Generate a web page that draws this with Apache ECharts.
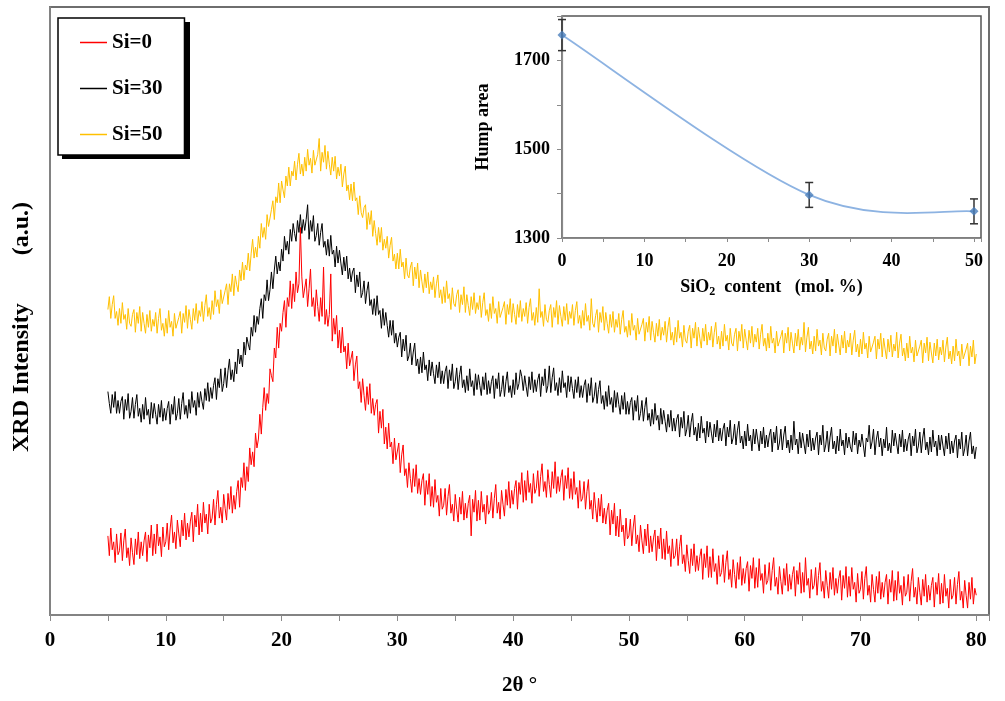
<!DOCTYPE html>
<html>
<head>
<meta charset="utf-8">
<script src="https://cdn.jsdelivr.net/npm/echarts@6/dist/echarts.min.js"></script>
<style>html,body{margin:0;padding:0;background:#fff}#chart{width:1005px;height:701px}</style>
</head>
<body>
<div id="chart"></div>
<script>
// 2θ sampling grid: 5° to 80° in 0.125° steps (601 points)
const thetaStart = 5, thetaStep = 0.125, thetaCount = 601;
const twoTheta = Array.from({length: thetaCount}, (_, i) => thetaStart + i * thetaStep);

const seriesNames = ['Si=0', 'Si=30', 'Si=50'];

// intensities (a.u.), one row per degree (8 samples) starting at 5°
const intensitySi0 = [
80,60,88,66,74,53,82,61,
65,83,55,75,87,58,68,50,
78,63,51,77,61,84,57,74,
60,75,84,54,81,68,91,60,
82,62,92,70,79,59,89,69,
74,93,66,87,101,73,84,67,
96,82,69,96,80,103,76,93,
79,95,104,74,101,89,112,81,
103,84,114,93,102,82,112,93,
98,117,91,112,126,98,109,93,
122,108,96,123,107,130,103,121,
107,125,136,109,139,129,154,126,
150,135,169,152,165,150,184,169,
178,203,183,210,230,207,224,214,
249,242,236,270,260,291,270,295,
287,306,318,291,321,312,338,310,
335,317,347,326,335,392,342,321,
323,340,312,330,350,312,321,302,
329,312,297,321,302,352,294,309,
292,304,345,277,300,284,303,270,
288,265,291,266,272,249,275,252,
253,267,237,253,262,229,236,215,
239,222,207,231,213,234,204,219,
202,213,218,184,206,189,208,173,
190,168,194,170,175,153,179,157,
158,174,144,162,172,141,148,129,
154,138,124,148,130,152,123,138,
122,136,143,111,136,122,143,110,
130,109,137,114,121,100,128,107,
111,128,101,120,132,103,112,95,
122,107,94,119,102,125,96,113,
98,113,121,80,117,104,126,95,
116,96,125,104,112,92,121,102,
106,124,98,118,132,103,114,97,
126,112,100,127,111,135,108,126,
112,128,136,107,134,122,144,114,
136,116,146,124,133,113,143,123,
128,146,120,140,153,125,135,119,
147,132,119,145,128,155,123,140,
125,139,147,116,141,128,149,118,
138,117,145,122,129,108,136,115,
118,135,107,125,137,107,116,97,
124,108,94,118,100,122,93,108,
92,106,113,81,106,92,113,80,
100,79,107,84,91,70,98,77,
80,97,70,89,101,72,81,64,
91,75,62,87,70,92,63,80,
64,78,86,55,80,67,88,57,
77,56,85,62,70,49,77,57,
60,77,50,69,81,52,61,44,
71,55,42,67,50,72,44,60,
45,59,67,36,62,48,70,38,
59,38,67,44,52,31,60,39,
43,61,33,53,65,36,46,28,
56,41,27,53,36,59,30,47,
32,47,54,24,50,37,58,27,
48,28,57,35,42,22,51,31,
35,53,25,45,58,29,38,21,
49,34,21,47,30,52,24,41,
26,41,49,19,45,31,53,22,
43,23,58,30,37,17,46,26,
30,48,20,40,53,24,34,17,
45,30,17,43,26,48,20,37,
22,37,45,15,40,27,49,18,
39,19,48,26,33,13,42,22,
26,44,16,37,49,20,30,13,
41,26,13,39,22,44,16,33,
18,33,41,11,36,23,45,14,
35,15,44,22,30,10,39,19,
23,41,14,34,47,18,28,11,
38,23,10,36,19,41,13,30,
15,30,38,8,33,21,42,11,
32,12,41,19,27,7,36,16,
20,38,11,31,44,15,24,7,
35,20,7,33,16,38,11,27,
20
];

const intensitySi30 = [
226,214,204,223,210,226,204,217,
204,216,221,198,218,207,224,199,
206,220,199,213,223,201,209,195,
213,198,220,202,208,193,215,199,
214,203,193,213,200,217,196,209,
197,209,216,193,213,203,221,197,
204,219,198,214,225,203,212,199,
218,204,226,210,217,202,225,210,
226,216,208,229,217,235,216,230,
219,232,240,218,239,230,249,226,
234,250,230,247,259,238,248,236,
256,244,269,254,263,251,276,263,
281,274,268,291,282,303,286,302,
294,310,320,300,324,318,339,318,
329,347,330,349,363,345,357,348,
370,358,383,369,378,365,390,378,
396,386,378,399,387,405,386,400,
389,400,415,380,399,388,404,378,
384,396,374,387,396,372,378,364,
380,363,384,365,369,352,373,356,
369,356,344,362,348,363,340,351,
337,347,351,326,344,332,347,321,
326,338,315,328,337,313,319,304,
320,303,323,304,308,290,310,293,
306,293,281,298,283,298,275,285,
271,281,286,261,279,267,283,257,
262,275,253,266,275,252,259,244,
261,245,266,248,253,237,258,242,
256,244,234,253,240,256,234,247,
234,246,252,229,248,237,254,229,
236,250,228,243,252,230,238,225,
242,227,249,231,237,222,244,228,
243,232,222,241,228,245,223,237,
224,236,242,219,239,229,245,221,
228,242,221,236,246,225,232,220,
238,223,245,228,234,248,241,227,
242,231,221,241,228,246,225,238,
226,238,244,221,241,232,249,225,
232,252,225,240,250,227,235,222,
240,225,247,230,235,220,242,226,
241,229,219,238,225,241,220,232,
220,232,238,215,234,222,240,215,
221,235,214,228,237,214,222,208,
226,211,232,213,220,205,227,210,
225,213,203,222,208,225,203,216,
203,215,220,197,217,206,222,197,
204,217,196,210,220,197,204,191,
208,193,214,197,202,187,209,193,
207,196,185,203,190,207,186,199,
186,198,203,180,200,189,206,181,
188,202,180,195,204,182,190,176,
194,179,201,184,189,174,196,180,
195,184,174,193,180,197,176,189,
176,188,194,171,190,180,197,173,
179,193,172,187,196,174,181,168,
186,171,193,176,182,166,188,173,
188,177,166,186,173,190,169,182,
170,182,188,165,185,174,191,167,
174,188,167,182,191,169,177,164,
182,167,196,172,178,163,185,169,
184,173,163,183,170,187,166,179,
167,179,185,162,182,172,192,165,
172,186,165,180,190,168,176,163,
181,166,188,171,177,162,184,169,
180,170,165,186,172,184,163,177,
170,183,181,160,179,175,192,168,
175,188,162,178,186,170,179,161,
178,169,190,166,174,164,187,171,
184,173,163,183,170,187,165,178,
166,178,184,161,181,171,188,164,
171,185,164,179,189,167,175,162,
180,165,187,170,176,161,182,167,
182,171,161,181,168,184,163,176,
164,176,182,159,178,168,185,161,
168,182,161,176,185,163,171,158,
170
];

const intensitySi50 = [
309,322,300,314,323,300,307,293,
310,295,316,299,304,289,310,295,
292,304,309,286,306,295,312,287,
306,295,285,304,291,308,287,299,
292,306,285,300,310,288,295,282,
300,285,308,291,297,282,305,290,
288,301,307,285,305,296,313,290,
309,299,289,310,298,315,295,308,
302,317,297,313,324,302,311,299,
318,304,328,312,319,305,329,315,
314,328,335,314,335,327,345,323,
343,334,327,349,338,357,339,354,
349,366,348,366,380,361,372,362,
383,371,396,382,392,380,405,393,
394,410,419,400,423,417,437,417,
439,430,422,444,434,453,434,449,
444,459,440,456,467,446,456,444,
463,449,471,455,462,447,470,455,
454,466,482,449,468,458,475,451,
469,456,445,463,449,464,441,453,
444,456,433,446,454,429,435,420,
436,419,438,419,422,405,424,407,
402,412,415,390,407,395,409,383,
399,386,374,392,377,392,369,380,
371,383,361,374,382,358,365,350,
366,350,370,352,357,340,361,344,
341,352,357,333,352,340,356,331,
349,337,326,345,331,347,325,337,
329,342,321,335,344,321,329,315,
332,316,338,320,325,309,331,315,
312,324,329,306,324,314,332,306,
324,313,303,322,309,326,305,316,
309,323,301,316,326,303,309,297,
315,300,322,305,310,295,317,301,
299,311,317,294,314,304,320,296,
315,304,294,314,301,318,297,310,
302,316,295,311,320,298,306,293,
311,296,330,301,307,292,314,299,
296,308,314,291,311,301,318,294,
313,302,292,312,298,315,294,307,
300,314,293,308,317,295,303,290,
308,293,315,297,303,288,320,295,
291,303,309,286,306,296,312,288,
306,295,285,304,291,307,286,299,
291,305,284,299,308,286,292,281,
298,283,305,288,293,278,300,284,
282,294,300,277,296,286,302,278,
297,286,276,295,282,299,278,291,
283,297,276,291,301,278,286,273,
291,276,298,280,286,271,293,278,
275,287,293,270,290,280,296,272,
291,280,270,290,277,294,273,286,
278,292,271,286,296,274,282,269,
287,272,294,277,283,268,290,275,
272,284,290,267,287,277,294,270,
289,278,268,288,275,292,271,284,
276,290,269,284,294,272,280,267,
285,270,292,275,280,265,287,272,
270,282,288,265,285,275,291,267,
286,275,265,285,272,289,268,281,
273,296,266,281,291,269,277,264,
282,267,289,272,278,263,285,270,
267,279,285,262,282,272,289,265,
284,273,263,283,270,287,265,278,
271,285,263,278,288,266,274,261,
279,264,286,269,275,260,282,266,
264,276,282,259,279,269,285,261,
280,269,259,279,266,283,261,274,
267,286,260,275,284,262,270,257,
275,260,282,265,271,256,278,262,
260,272,278,255,275,265,281,257,
276,265,255,275,262,279,258,271,
263,278,256,271,281,259,267,254,
272,257,279,262,267,252,274,259,
257,269,275,252,272,261,278,254,
264
];

// Inset: hump area vs SiO2 content
const siO2Content = [0, 30, 50];
const humpArea = [1757, 1397, 1360];
const humpError = [35, 28, 28];

const xLabels = [0, 10, 20, 30, 40, 50, 60, 70, 80];
const insetXLabels = [0, 10, 20, 30, 40, 50];
const insetYLabels = [1300, 1500, 1700];

const colors = ['#ff0000', '#000000', '#ffc000'];
const serif = '"Liberation Serif", "Times New Roman", serif';

const chart = echarts.init(document.getElementById('chart'), null, {renderer: 'canvas'});

function pairs(ys) { return twoTheta.map((x, i) => [x, ys[i]]); }

const option = {
  backgroundColor: '#fff',
  animation: false,
  textStyle: {fontFamily: serif},
  graphic: [
    {type: 'rect', left: 62, top: 22, shape: {width: 128, height: 137}, style: {fill: '#000'}, z: 1, silent: true}
  ],
  legend: {
    data: seriesNames,
    orient: 'vertical',
    left: 58, top: 18,
    padding: [14, 22, 10, 22],
    itemGap: 25,
    itemWidth: 27,
    itemHeight: 1.5,
    icon: 'rect',
    backgroundColor: '#fff',
    borderColor: '#000',
    borderWidth: 1.5,
    z: 10,
    textStyle: {fontFamily: serif, fontWeight: 'bold', fontSize: 21, color: '#000'}
  },
  grid: [
    {left: 50, right: 16, top: 7, bottom: 79, show: true, borderColor: '#6e6e6e', borderWidth: 2},
    {left: 562, right: 24, top: 16, bottom: 463, show: true, borderColor: '#555', borderWidth: 1.5, backgroundColor: '#fff'}
  ],
  xAxis: [
    {
      gridIndex: 0, type: 'value', min: 0, max: 81.1, interval: 5,
      name: '2θ °', nameLocation: 'middle', nameGap: 60,
      nameTextStyle: {fontFamily: serif, fontWeight: 'bold', fontSize: 21, color: '#000'},
      axisLine: {lineStyle: {color: '#8a8a8a', width: 1.5}},
      axisTick: {show: true, length: 6, lineStyle: {color: '#8a8a8a'}},
      axisLabel: {
        margin: 15, fontFamily: serif, fontWeight: 'bold', fontSize: 21, color: '#000',
        formatter: v => xLabels.indexOf(v) >= 0 ? String(v) : ''
      },
      splitLine: {show: false}
    },
    {
      gridIndex: 1, type: 'value', min: 0, max: 50.85, interval: 5,
      name: '{a|SiO}{s|2}{a|  content   (mol. %)}', nameLocation: 'middle', nameGap: 38,
      nameTextStyle: {
        rich: {
          a: {fontFamily: serif, fontWeight: 'bold', fontSize: 18, color: '#000'},
          s: {fontFamily: serif, fontWeight: 'bold', fontSize: 12, color: '#000', padding: [10, 0, 0, 0]}
        }
      },
      axisLine: {lineStyle: {color: '#8a8a8a', width: 1.2}},
      axisTick: {show: true, length: 4, lineStyle: {color: '#8a8a8a'}},
      axisLabel: {
        margin: 14, fontFamily: serif, fontWeight: 'bold', fontSize: 18, color: '#000',
        formatter: v => insetXLabels.indexOf(v) >= 0 ? String(v) : ''
      },
      splitLine: {show: false}
    }
  ],
  yAxis: [
    {
      gridIndex: 0, type: 'value', min: 0, max: 615,
      name: 'XRD Intensity        (a.u.)', nameLocation: 'middle', nameGap: 16,
      nameTextStyle: {fontFamily: serif, fontWeight: 'bold', fontSize: 24, color: '#000', padding: [0, 32, 0, 0]},
      axisLine: {show: true, lineStyle: {color: '#8a8a8a', width: 1.5}},
      axisTick: {show: false}, axisLabel: {show: false}, splitLine: {show: false}
    },
    {
      gridIndex: 1, type: 'value', min: 1300, max: 1800, interval: 100,
      name: 'Hump area', nameLocation: 'middle', nameGap: 70,
      nameTextStyle: {fontFamily: serif, fontWeight: 'bold', fontSize: 18, color: '#000'},
      axisLine: {show: true, lineStyle: {color: '#8a8a8a', width: 1.2}},
      axisTick: {show: true, length: 5, lineStyle: {color: '#8a8a8a'}},
      axisLabel: {
        margin: 12, fontFamily: serif, fontWeight: 'bold', fontSize: 18, color: '#000',
        formatter: v => insetYLabels.indexOf(v) >= 0 ? String(v) : ''
      },
      splitLine: {show: false}
    }
  ],
  series: [
    {name: seriesNames[0], type: 'line', xAxisIndex: 0, yAxisIndex: 0, data: pairs(intensitySi0),
     symbol: 'none', lineStyle: {color: colors[0], width: 1}, itemStyle: {color: colors[0]}},
    {name: seriesNames[1], type: 'line', xAxisIndex: 0, yAxisIndex: 0, data: pairs(intensitySi30),
     symbol: 'none', lineStyle: {color: colors[1], width: 1}, itemStyle: {color: colors[1]}},
    {name: seriesNames[2], type: 'line', xAxisIndex: 0, yAxisIndex: 0, data: pairs(intensitySi50),
     symbol: 'none', lineStyle: {color: colors[2], width: 1}, itemStyle: {color: colors[2]}},
    {
      // smoothed connecting curve (Bezier through the measured points)
      name: 'humpCurve', type: 'custom', xAxisIndex: 1, yAxisIndex: 1, z: 2,
      data: siO2Content.map((x, i) => [x, humpArea[i]]),
      renderItem: function (params, api) {
        const n = params.dataInsideLength, i = params.dataIndexInside;
        if (i >= n - 1) return null;
        const P = k => {
          const j = Math.max(0, Math.min(n - 1, k));
          return api.coord([api.value(0, j), api.value(1, j)]);
        };
        const p0 = P(i - 1), p1 = P(i), p2 = P(i + 1), p3 = P(i + 2);
        const t = 1 / 6;
        return {
          type: 'bezierCurve',
          shape: {
            x1: p1[0], y1: p1[1], x2: p2[0], y2: p2[1],
            cpx1: p1[0] + (p2[0] - p0[0]) * t, cpy1: p1[1] + (p2[1] - p0[1]) * t,
            cpx2: p2[0] - (p3[0] - p1[0]) * t, cpy2: p2[1] - (p3[1] - p1[1]) * t
          },
          style: {stroke: '#8db3e2', lineWidth: 1.8, fill: null}
        };
      }
    },
    {
      name: 'humpErr', type: 'custom', xAxisIndex: 1, yAxisIndex: 1, z: 3,
      data: siO2Content.map((x, i) => [x, humpArea[i] - humpError[i], humpArea[i] + humpError[i]]),
      renderItem: function (params, api) {
        const lo = api.coord([api.value(0), api.value(1)]);
        const hi = api.coord([api.value(0), api.value(2)]);
        const w = 4;
        const st = {stroke: '#333', lineWidth: 1.5};
        return {type: 'group', children: [
          {type: 'line', shape: {x1: lo[0], y1: lo[1], x2: hi[0], y2: hi[1]}, style: st},
          {type: 'line', shape: {x1: lo[0] - w, y1: lo[1], x2: lo[0] + w, y2: lo[1]}, style: st},
          {type: 'line', shape: {x1: hi[0] - w, y1: hi[1], x2: hi[0] + w, y2: hi[1]}, style: st}
        ]};
      }
    },
    {
      name: 'hump', type: 'scatter', xAxisIndex: 1, yAxisIndex: 1, z: 4,
      data: siO2Content.map((x, i) => [x, humpArea[i]]),
      symbol: 'diamond', symbolSize: 9,
      itemStyle: {color: '#4a7ebb'}
    }
  ]
};
chart.setOption(option);
</script>
</body>
</html>
